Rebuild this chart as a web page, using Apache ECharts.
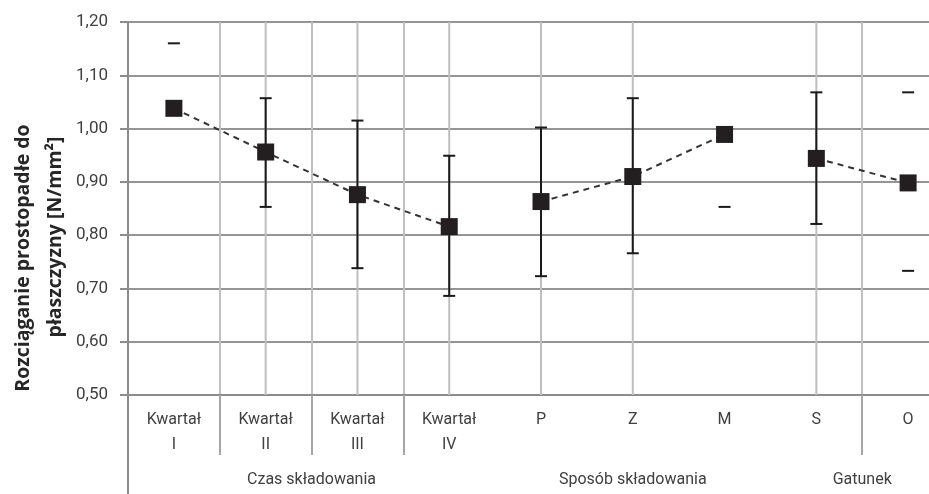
<!DOCTYPE html>
<html>
<head>
<meta charset="utf-8">
<script src="https://cdn.jsdelivr.net/npm/echarts@6/dist/echarts.min.js"></script>
<style>
  html, body { margin: 0; padding: 0; background: #fff; }
  #chart { width: 929px; height: 494px; }
</style>
</head>
<body>
<div id="chart"></div>
<script>
// categories and groups
const categories = ['Kwartał\nI', 'Kwartał\nII', 'Kwartał\nIII', 'Kwartał\nIV', 'P', 'Z', 'M', 'S', 'O']
const groups = [
  { name: 'Czas składowania', from: 0, to: 3 },
  { name: 'Sposób składowania', from: 4, to: 6 },
  { name: 'Gatunek', from: 7, to: 8 }
]
// means and error bar ends (null = no cap drawn)
const means = [1.038, 0.956, 0.876, 0.816, 0.863, 0.910, 0.989, 0.944, 0.898]
const errHigh = [1.160, 1.057, 1.015, 0.949, 1.002, 1.057, null, 1.068, 1.068]
const errLow = [null, 0.853, 0.738, 0.686, 0.723, 0.766, 0.853, 0.821, 0.733]
const stemShown = [false, true, true, true, true, true, false, true, false]
const yTicks = [0.5, 0.6, 0.7, 0.8, 0.9, 1.0, 1.1, 1.2]
const separators = [1, 2, 3, 8]

const chart = echarts.init(document.getElementById('chart'))
const font = 'Roboto, "Open Sans", sans-serif'

function groupSeries(g) {
  return {
    type: 'line',
    z: 3,
    symbol: 'rect',
    symbolSize: 17,
    itemStyle: { color: '#231f20' },
    lineStyle: { color: '#333', width: 2, type: [6, 5] },
    data: means.map((v, i) => (i >= g.from && i <= g.to ? v : '-'))
  }
}

const option = {
  animation: false,
  grid: { left: 128, top: 22, bottom: 99, width: 826, outerBoundsMode: 'none', containLabel: false },
  xAxis: {
    type: 'category',
    data: categories,
    boundaryGap: true,
    axisLine: { show: true, lineStyle: { color: '#8c8c8c', width: 2 } },
    axisTick: {
      show: true,
      length: 60,
      interval: (i) => separators.includes(i),
      lineStyle: { color: '#a6a6a6', width: 2 }
    },
    splitLine: {
      show: true,
      interval: (i) => separators.includes(i),
      lineStyle: { color: '#bfbfbf', width: 2 }
    },
    axisLabel: {
      interval: 0,
      margin: 12,
      fontSize: 16,
      lineHeight: 25,
      color: '#404040',
      fontFamily: font
    }
  },
  yAxis: {
    type: 'value',
    min: yTicks[0],
    max: yTicks[yTicks.length - 1],
    interval: 0.1,
    axisLine: { show: true, lineStyle: { color: '#8c8c8c', width: 2 } },
    axisTick: { show: true, length: 8, lineStyle: { color: '#8c8c8c', width: 2 } },
    splitLine: { show: true, lineStyle: { color: '#959595', width: 2 } },
    axisLabel: {
      margin: 20,
      fontSize: 17,
      color: '#404040',
      fontFamily: font,
      formatter: (v) => v.toFixed(2).replace('.', ',')
    }
  },
  series: [
    {
      type: 'custom',
      z: 2,
      data: means.map((v, i) => [i, v]),
      renderItem: function (params, api) {
        const i = params.dataIndex
        const children = []
        const cap = 6
        if (stemShown[i]) {
          const top = api.coord([i, yTicks[yTicks.length - 1]])
          const bot = api.coord([i, yTicks[0]])
          children.push({
            type: 'line',
            shape: { x1: top[0], y1: top[1], x2: bot[0], y2: bot[1] },
            style: { stroke: '#bfbfbf', lineWidth: 2 }
          })
          const hi = api.coord([i, errHigh[i]])
          const lo = api.coord([i, errLow[i]])
          children.push({
            type: 'line',
            shape: { x1: hi[0], y1: hi[1], x2: lo[0], y2: lo[1] },
            style: { stroke: '#1a1a1a', lineWidth: 2 }
          })
        }
        ;[errHigh[i], errLow[i]].forEach((v) => {
          if (v == null) return
          const p = api.coord([i, v])
          children.push({
            type: 'line',
            shape: { x1: p[0] - cap, y1: p[1], x2: p[0] + cap, y2: p[1] },
            style: { stroke: '#1a1a1a', lineWidth: 2 }
          })
        })
        return { type: 'group', children: children }
      }
    }
  ].concat(groups.map(groupSeries))
}

chart.setOption(option)

// group labels under the categories, and the y axis title
const graphics = groups.map((g) => {
  const x1 = chart.convertToPixel({ xAxisIndex: 0 }, g.from)
  const x2 = chart.convertToPixel({ xAxisIndex: 0 }, g.to)
  return {
    type: 'text',
    x: (x1 + x2) / 2,
    y: 480,
    style: {
      text: g.name,
      font: '16px ' + font,
      fill: '#404040',
      textAlign: 'center',
      textVerticalAlign: 'middle'
    }
  }
})
graphics.push(
  {
    type: 'line',
    shape: { x1: 128, y1: 395, x2: 128, y2: 494 },
    style: { stroke: '#8c8c8c', lineWidth: 2 }
  },
  {
    type: 'text',
    x: 23,
    y: 258,
    rotation: Math.PI / 2,
    style: {
      text: 'Rozciąganie prostopadłe do',
      font: 'bold 19.5px "Open Sans", sans-serif',
      fill: '#262626',
      textAlign: 'center',
      textVerticalAlign: 'middle'
    }
  },
  {
    type: 'text',
    x: 55,
    y: 237,
    rotation: Math.PI / 2,
    style: {
      text: 'płaszczyzny [N/mm²]',
      font: 'bold 19.5px "Open Sans", sans-serif',
      fill: '#262626',
      textAlign: 'center',
      textVerticalAlign: 'middle'
    }
  }
)
chart.setOption({ graphic: graphics })
</script>
</body>
</html>
